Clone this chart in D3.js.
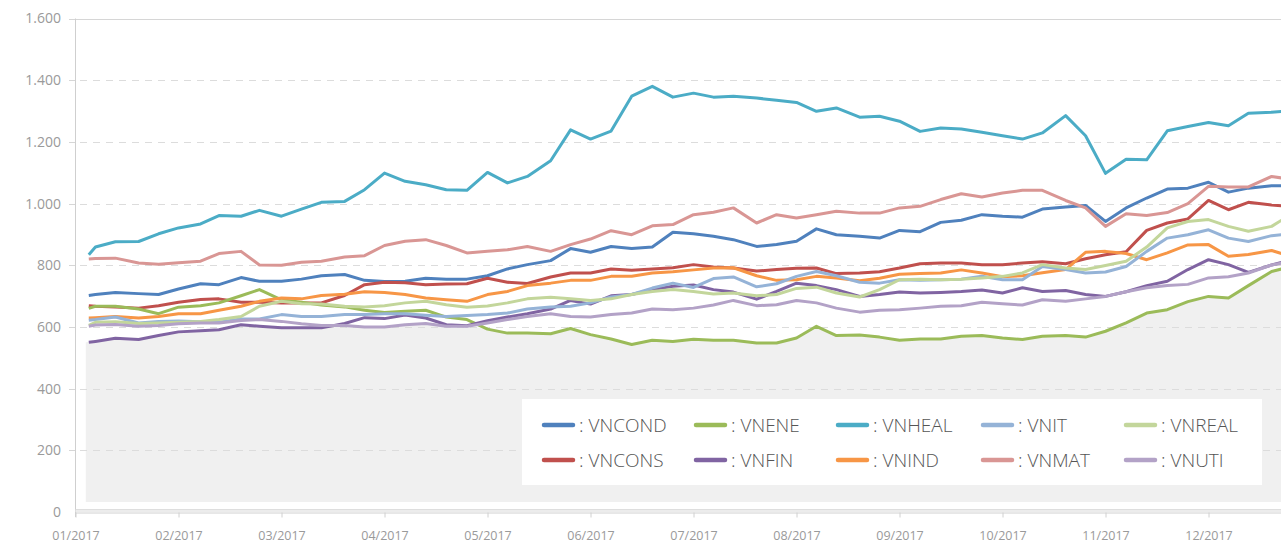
<!DOCTYPE html>
<html><head><meta charset="utf-8">
<script src="https://cdn.jsdelivr.net/npm/d3@7"></script>
<style>
html,body{margin:0;padding:0;background:#fff;overflow:hidden}
svg{display:block}
text{font-family:"Open Sans","Noto Sans",sans-serif}
</style>
</head><body>
<svg id="chart" width="1281" height="544"></svg>
<script>
// ---------- DATA ----------
const dates = [
  "2017-01-05","2017-01-07","2017-01-13","2017-01-20","2017-01-26",
  "2017-02-01","2017-02-07","2017-02-12","2017-02-18","2017-02-23",
  "2017-03-01","2017-03-07","2017-03-13","2017-03-20","2017-03-26",
  "2017-04-01","2017-04-07","2017-04-13","2017-04-19","2017-04-25",
  "2017-05-01","2017-05-07","2017-05-13","2017-05-20","2017-05-26",
  "2017-06-01","2017-06-07","2017-06-13","2017-06-19","2017-06-25",
  "2017-07-01","2017-07-07","2017-07-13","2017-07-20","2017-07-26",
  "2017-08-01","2017-08-07","2017-08-13","2017-08-20","2017-08-26",
  "2017-09-01","2017-09-07","2017-09-13","2017-09-19","2017-09-25",
  "2017-10-01","2017-10-07","2017-10-13","2017-10-20","2017-10-26",
  "2017-11-01","2017-11-07","2017-11-13","2017-11-19","2017-11-25",
  "2017-12-01","2017-12-07","2017-12-13","2017-12-20","2017-12-23"
];
const VNCOND = [702,705,712,708,705, 723,740,737,760,748, 748,755,766,770,751, 747,748,758,755,755,
  766,788,802,815,854, 842,861,854,859,907, 902,894,883,861,867, 878,918,899,894,888,
  913,909,939,946,964, 959,956,982,989,994, 942,986,1018,1047,1050, 1069,1037,1050,1058,1058];
const VNCONS = [669,667,665,661,669, 680,689,691,680,680, 678,678,678,702,737, 745,743,737,739,740,
  758,745,741,762,775, 775,788,784,788,792, 802,794,791,781,786, 790,791,773,775,779,
  791,805,807,807,802, 802,807,811,805,821, 834,844,913,937,950, 1010,980,1004,995,993];
const VNENE = [660,667,667,658,643, 664,669,678,701,721, 688,680,671,665,654, 647,651,654,632,624,
  593,580,580,578,595, 575,561,543,557,553, 560,557,557,548,548, 564,602,572,574,567,
  557,561,561,570,572, 564,559,570,572,567, 586,613,645,656,682, 699,694,734,780,788];
const VNFIN = [550,553,563,559,572, 584,588,591,607,602, 597,597,597,611,630, 627,639,629,607,604,
  620,632,643,658,686, 674,701,705,721,732, 736,721,713,690,715, 742,734,721,699,705,
  713,710,712,715,720, 710,727,715,718,705, 699,714,734,748,786, 818,802,777,801,809];
const VNHEAL = [834,859,876,877,902, 921,934,961,959,978, 959,982,1004,1007,1045, 1099,1072,1061,1045,1043,
  1101,1067,1088,1139,1239, 1209,1235,1348,1380,1345, 1358,1345,1348,1342,1335, 1328,1299,1310,1280,1283,
  1267,1234,1245,1242,1231, 1220,1209,1229,1285,1220, 1098,1144,1142,1236,1250, 1263,1252,1293,1296,1299];
const VNIND = [629,630,634,629,634, 643,643,654,667,683, 694,691,702,706,714, 712,705,694,688,683,
  705,715,734,742,751, 751,764,764,775,779, 785,791,792,766,751, 753,764,759,750,758,
  771,773,775,785,775, 763,766,776,786,842, 845,838,818,840,866, 867,829,835,848,838];
const VNIT = [622,624,632,613,618, 619,617,615,626,626, 640,634,634,640,640, 643,643,638,634,637,
  640,645,658,665,667, 678,697,705,726,742, 728,757,762,730,740, 764,780,766,745,742,
  753,751,753,755,764, 753,753,796,786,775, 778,796,845,888,899, 915,888,877,896,899];
const VNMAT = [820,822,823,807,803, 808,813,838,845,801, 800,810,813,827,831, 864,878,883,864,840,
  845,850,861,845,867, 885,912,899,928,932, 964,972,986,937,964, 953,964,975,969,969,
  986,991,1013,1032,1021, 1034,1043,1043,1010,986, 926,967,961,971,1000, 1056,1054,1054,1088,1083];
const VNREAL = [605,615,617,611,613, 615,618,624,634,667, 683,675,674,667,665, 669,678,683,672,664,
  668,678,691,696,691, 686,691,705,715,721, 715,707,710,701,705, 725,729,710,697,721,
  753,755,753,755,759, 764,775,802,791,786, 799,813,859,921,942, 948,926,910,926,946];
const VNUTI = [602,606,608,602,605, 610,613,613,621,624, 618,610,605,605,600, 600,607,611,602,602,
  613,624,634,643,634, 632,640,645,658,656, 661,671,686,669,672, 686,678,661,648,654,
  656,661,667,669,680, 675,671,688,683,691, 699,714,727,734,738, 759,763,775,801,807];

const seriesNames = ["VNCOND","VNCONS","VNENE","VNFIN","VNHEAL","VNIND","VNIT","VNMAT","VNREAL","VNUTI"];
const yTicks = [0,200,400,600,800,1000,1200,1400,1600];
const monthTicks = ["2017-01-01","2017-02-01","2017-03-01","2017-04-01","2017-05-01","2017-06-01",
  "2017-07-01","2017-08-01","2017-09-01","2017-10-01","2017-11-01","2017-12-01"];

// ---------- STYLE ----------
const seriesValues = {VNCOND,VNCONS,VNENE,VNFIN,VNHEAL,VNIND,VNIT,VNMAT,VNREAL,VNUTI};
const colors = {
  VNCOND:"#4f81bd", VNCONS:"#c0504d", VNENE:"#9bbb59", VNFIN:"#8064a2", VNHEAL:"#4bacc6",
  VNIND:"#f79646", VNIT:"#95b3d7", VNMAT:"#d99694", VNREAL:"#c3d69b", VNUTI:"#b3a2c7"
};

const W = 1281;
const parse = d3.timeParse("%Y-%m-%d");
const dt = dates.map(parse);
const svg = d3.select("#chart");

const monthStarts = d3.range(13).map(i => new Date(2017, i, 1));
const x = d3.scaleTime().domain(monthStarts).range(monthStarts.map((d, i) => 75.5 + i * 103));
const y = d3.scaleLinear().domain([0, 1600]).range([512, 18.5]);

const locale = d3.formatLocale({decimal: ",", thousands: ".", grouping: [3], currency: ["", ""]});
const fmt = locale.format(",d");

// grey area under the lowest series
const minData = dt.map((d, i) => ({date: d, v: d3.min(seriesNames, n => seriesValues[n][i])}));
svg.append("path")
  .datum(minData)
  .attr("fill", "#f0f0f0")
  .attr("d", d3.area().x((d, i) => x(d.date) - (i === 0 ? 3 : 0)).y0(y(0) - 10).y1(d => y(d.v)));

// gridlines
svg.append("g").selectAll("line")
  .data(yTicks.filter(t => t > 0))
  .join("line")
  .attr("x1", 69).attr("x2", W)
  .attr("y1", d => Math.round(y(d)) + 0.5).attr("y2", d => Math.round(y(d)) + 0.5)
  .attr("stroke", d => d === 1600 ? "#d6d6d6" : "#dcdcdc")
  .attr("stroke-width", 1)
  .attr("stroke-dasharray", d => d === 1600 ? null : "7,6")
  .attr("stroke-dashoffset", -11);
svg.append("g").selectAll("line")
  .data(yTicks.filter(t => t > 0 && t < 1600))
  .join("line")
  .attr("x1", 69).attr("x2", 76)
  .attr("y1", d => Math.round(y(d)) + 0.5).attr("y2", d => Math.round(y(d)) + 0.5)
  .attr("stroke", "#d6d6d6");

// y axis
const yAxis = svg.append("g").attr("transform", "translate(75.5,0)")
  .call(d3.axisLeft(y).tickValues(yTicks).tickFormat(fmt).tickSize(0).tickPadding(14.5));
yAxis.select(".domain").attr("stroke", "#cfcfcf").attr("d", `M0,${y(1600)}V517`);
yAxis.selectAll("text").attr("fill", "#9a9a9a").style("font-size", "14px").attr("font-family", null);

// bottom double axis line
svg.append("line").attr("x1", 75.5).attr("x2", W).attr("y1", 509.5).attr("y2", 509.5).attr("stroke", "#dedede");
svg.append("rect").attr("x", 75.5).attr("y", 510).attr("width", W).attr("height", 2).attr("fill", "#ececec");

// x axis
const xAxis = svg.append("g").attr("transform", `translate(0,${y(0) + 0.5})`)
  .call(d3.axisBottom(x).tickValues(monthTicks.map(parse)).tickFormat(d3.timeFormat("%m/%Y"))
    .tickSize(5).tickSizeOuter(0).tickPadding(14));
xAxis.select(".domain").attr("stroke", "#d0d0d0");
xAxis.selectAll(".tick line").attr("stroke", "#d0d0d0");
xAxis.selectAll("text").attr("fill", "#9a9a9a").style("font-size", "12.5px").attr("font-family", null);

// lines
const line = d3.line().x(d => x(d.date)).y(d => y(d.v));
svg.append("g").selectAll("path")
  .data(seriesNames.map(n => ({name: n, pts: dt.map((d, i) => ({date: d, v: seriesValues[n][i]}))})))
  .join("path")
  .attr("fill", "none")
  .attr("stroke", d => colors[d.name])
  .attr("stroke-width", 3)
  .attr("stroke-linejoin", "round")
  .attr("d", d => line(d.pts));

// legend
const lg = svg.append("g");
lg.append("rect").attr("x", 522).attr("y", 399).attr("width", 740).attr("height", 86).attr("fill", "#fff");
const colX = [544, 696, 838, 983, 1126];
const rowY = [425, 460];
seriesNames.forEach((n, i) => {
  const cx = colX[Math.floor(i / 2)], cy = rowY[i % 2];
  lg.append("line").attr("x1", cx).attr("x2", cx + 29).attr("y1", cy).attr("y2", cy)
    .attr("stroke", colors[n]).attr("stroke-width", 4.5).attr("stroke-linecap", "round");
  lg.append("text").attr("x", cx + 35).attr("y", cy).attr("dy", "0.36em")
    .attr("fill", "#555").style("font-size", "19px").style("font-weight", 300)
    .text(": " + n);
});
</script>
</body></html>
